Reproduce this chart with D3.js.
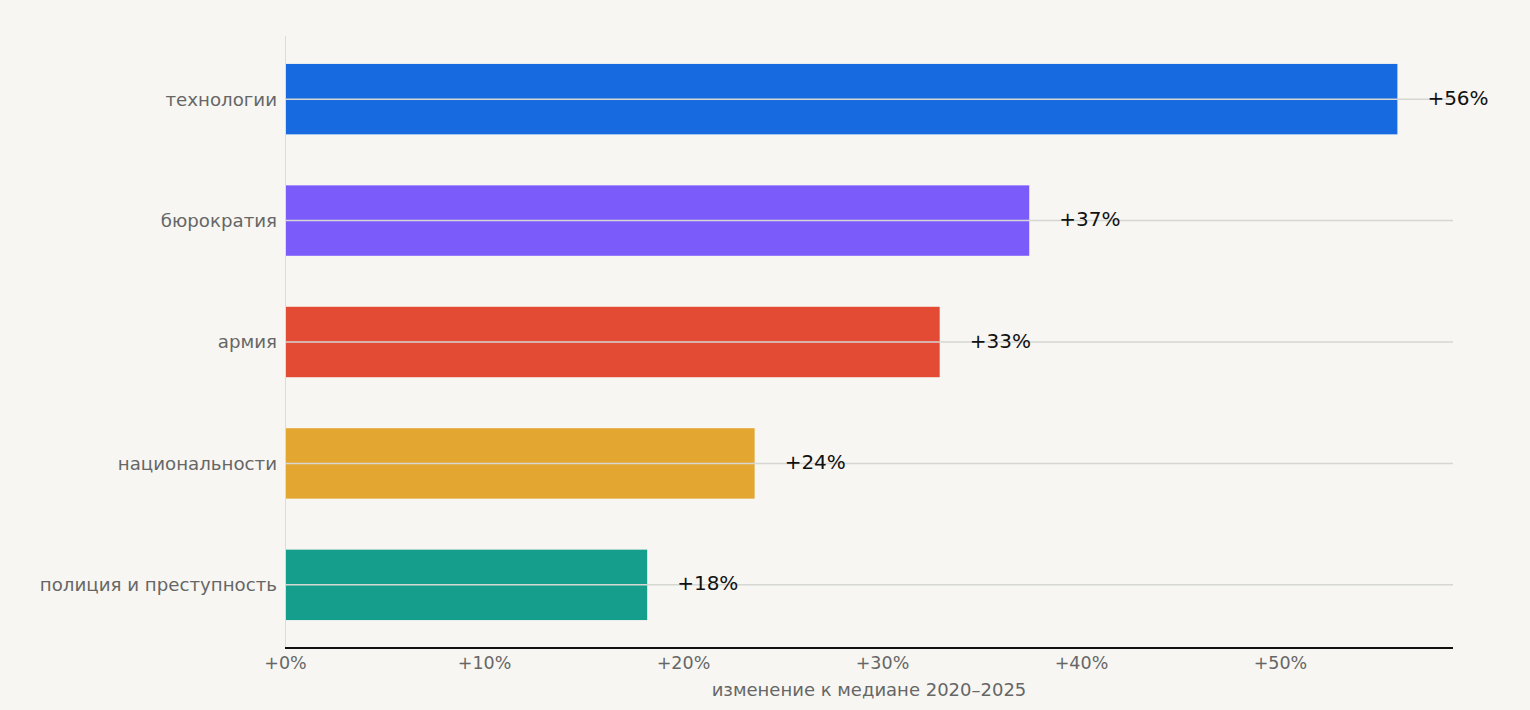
<!DOCTYPE html>
<html><head><meta charset="utf-8">
<script src="https://cdn.jsdelivr.net/npm/d3@7"></script>
<style>
html,body{margin:0;padding:0;background:#f7f6f2;}
svg{display:block;font-family:"DejaVu Sans",sans-serif;}
</style></head>
<body><svg id="c" width="1530" height="710"></svg>
<script>
const categories = ["технологии","бюрократия","армия","национальности","полиция и преступность"];
const values = [55.9, 37.4, 32.9, 23.6, 18.2];
const colors = ["#186ae0","#7b5cfa","#e34b35","#e3a630","#149e8b"];
const ticks = [0,10,20,30,40,50];
const xTitle = "изменение к медиане 2020–2025";

const svg = d3.select("#c");
const m = {l:285, r:1453, t:36, b:648};
const x = d3.scaleLinear().domain([0, d3.max(values)*1.05]).range([m.l, m.r]);
const y = d3.scaleBand().domain(categories).range([m.t, m.b]).paddingInner(0.42).paddingOuter(0.23);
const data = categories.map((c,i)=>({c, v:values[i], col:colors[i]}));

// left axis line
svg.append("line").attr("x1",m.l+0.5).attr("x2",m.l+0.5).attr("y1",m.t).attr("y2",m.b)
  .attr("stroke","#dcdcdc").attr("stroke-width",1);

svg.append("g").selectAll("rect").data(data).join("rect")
  .attr("x", x(0)+1).attr("y", d=>y(d.c)).attr("width", d=>x(d.v)-x(0)-1).attr("height", y.bandwidth())
  .attr("fill", d=>d.col);

// grid lines
svg.append("g").selectAll("line").data(data).join("line")
  .attr("x1", x(0)+1).attr("x2", m.r)
  .attr("y1", d=>y(d.c)+y.bandwidth()/2).attr("y2", d=>y(d.c)+y.bandwidth()/2)
  .attr("stroke","#d6d6d3").attr("stroke-width",1.5);

// value labels
svg.append("g").selectAll("text").data(data).join("text")
  .attr("x", d=>x(d.v)+30).attr("y", d=>y(d.c)+y.bandwidth()/2)
  .attr("dy","0.28em").attr("font-size",20).attr("fill","#111")
  .text(d=>"+"+Math.round(d.v)+"%");

// category labels
svg.append("g").selectAll("text").data(data).join("text")
  .attr("x", m.l-8).attr("y", d=>y(d.c)+y.bandwidth()/2)
  .attr("dy","0.35em").attr("text-anchor","end").attr("font-size",18.2).attr("fill","#666")
  .text(d=>d.c);

// bottom axis
const ax = svg.append("g").attr("transform",`translate(0,${m.b})`)
  .call(d3.axisBottom(x).tickValues(ticks).tickSize(0).tickPadding(9).tickFormat(d=>"+"+d+"%"));
ax.select(".domain").attr("stroke","#111").attr("stroke-width",2).attr("d",`M${m.l},0H${m.r}`);
ax.selectAll("text").attr("font-size",17.5).attr("fill","#666").attr("font-family","DejaVu Sans, sans-serif");

svg.append("text").attr("x",(m.l+m.r)/2).attr("y",696).attr("text-anchor","middle")
  .attr("font-size",18).attr("fill","#666").text(xTitle);
</script></body></html>
